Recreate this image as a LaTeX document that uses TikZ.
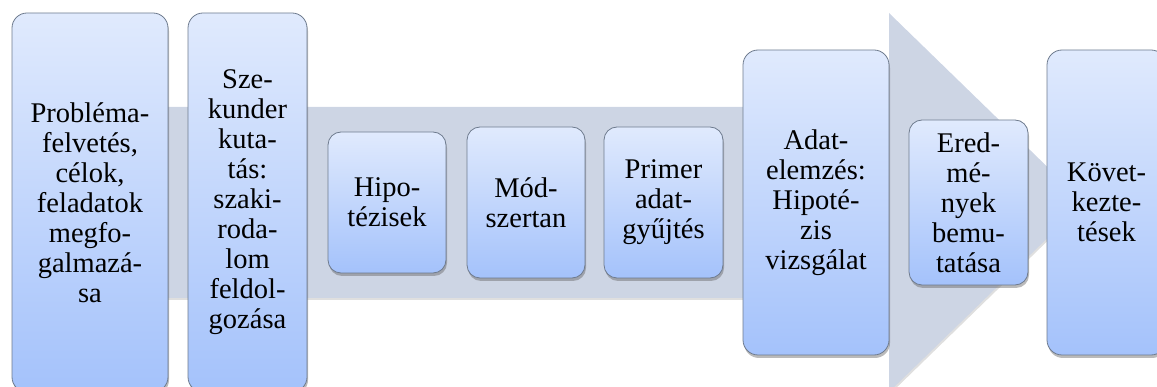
\documentclass[tikz,border=0pt]{standalone}
\usepackage{fontspec}
\newfontfamily\boxfont{LiberationSerif-Regular.ttf}
\usetikzlibrary{shadows}
\definecolor{bandcol}{HTML}{CDD5E4}
\definecolor{boxtop}{HTML}{E0EAFD}
\definecolor{boxbot}{HTML}{A4C2FB}
\definecolor{boxline}{HTML}{6E7B8E}
\tikzset{
  box/.style={draw=boxline, line width=0.8pt, rounded corners=#1,
    top color=boxtop, bottom color=boxbot,
    align=center, inner sep=0pt,
    font=\boxfont\fontsize{28.5}{30}\selectfont,
    drop shadow={shadow xshift=1pt, shadow yshift=-3pt, opacity=0.45, fill=black!60}},
  box/.default=15pt,
  band/.style={fill=bandcol, draw=none,
    drop shadow={shadow xshift=1pt, shadow yshift=-2pt, opacity=0.25, fill=black!50}}
}
\begin{document}
\begin{tikzpicture}[x=1pt,y=1pt]
\useasboundingbox (0,0) rectangle (1157,-387);
% band with arrow head
\path[band] (40,-107) -- (889,-107) -- (889,-13) -- (1084,-202.5) -- (889,-392) -- (889,-298) -- (40,-298) -- cycle;
% boxes
\node[box, minimum width=156pt, minimum height=379pt] (b1) at (90,-202.5)
  {Probléma-\\felvetés,\\célok,\\feladatok\\megfo-\\galmazá-\\sa};
\node[box, minimum width=119pt, minimum height=379pt] (b2) at (247.5,-202.5)
  {Sze-\\kunder\\kuta-\\tás:\\szaki-\\roda-\\lom\\feldol-\\gozása};
\node[box=13pt, minimum width=118pt, minimum height=141pt] (b3) at (387,-202.5)
  {Hipo-\\tézisek};
\node[box=13pt, minimum width=118pt, minimum height=151pt] (b4) at (526,-202.5)
  {Mód-\\szertan};
\node[box=13pt, minimum width=119pt, minimum height=151pt] (b5) at (663.5,-202.5)
  {Primer\\adat-\\gyűjtés};
\node[box, minimum width=146pt, minimum height=305pt] (b6) at (816,-202.5)
  {Adat-\\elemzés:\\Hipoté-\\zis\\vizsgálat};
\node[box=13pt, minimum width=119pt, minimum height=165pt] (b7) at (968.5,-202.5)
  {Ered-\\mé-\\nyek\\bemu-\\tatása};
\node[box, minimum width=119pt, minimum height=305pt] (b8) at (1106.5,-202.5)
  {Követ-\\kezte-\\tések};
\end{tikzpicture}
\end{document}
